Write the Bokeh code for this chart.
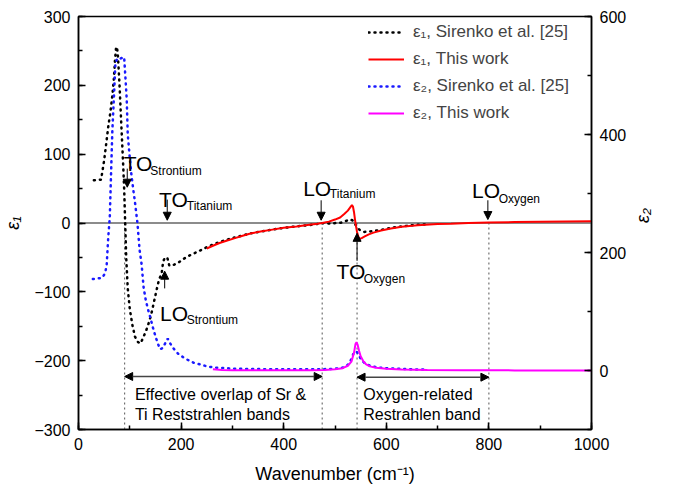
from bokeh.plotting import figure
from bokeh.models import (Range1d, LinearAxis, SingleIntervalTicker, Span, Label,
                          Arrow, NormalHead, Legend, LegendItem, ColumnDataSource)
from bokeh.embed import file_html
from bokeh.resources import INLINE

# ---------------- data ----------------
# eps1, Sirenko et al. [25] (black dotted)
sir_e1_x = [30, 44, 50, 54, 58, 62, 66, 69, 71, 73, 75, 77, 80, 84, 87, 89, 91, 93, 96, 100,
            105, 110, 116, 121, 127, 132, 137, 142, 147, 152, 157, 162, 165, 168, 173, 177,
            185, 194, 205, 217, 237, 253, 270, 290, 310, 330, 350, 375, 400, 425, 450, 470,
            480, 492, 502, 512, 520, 528, 534, 538, 542, 548, 557, 566, 576, 590, 609, 630,
            654, 680]
sir_e1_y = [62, 63, 91, 115, 140, 160, 185, 210, 235, 253, 256, 241, 200, 134, 86, 50, 0, -50,
            -95, -125, -148, -165, -173, -175, -165, -156, -145, -132, -115, -98, -82, -74,
            -56, -51, -50, -62, -61, -58, -52, -47, -40, -34, -29, -24, -20, -16, -13, -10, -7,
            -5, -3, -1, 0, -1, 0, 0.5, 2.5, 5, 4, 0, -5, -10, -13, -12.5, -11.5, -10, -7, -5,
            -3, -2]

# eps1, this work (red)
tw_e1_x = [250, 262, 275, 290, 305, 320, 337, 355, 375, 400, 425, 450, 466, 475, 488, 500, 510,
           518, 525, 530, 533, 535, 537, 539, 541, 543, 546, 548, 552, 558, 566, 575, 590, 609,
           630, 661, 700, 726, 760, 800, 850, 900, 950, 1000]
tw_e1_y = [-37, -33, -29, -25.5, -22, -18.5, -15, -12.5, -10, -7, -5, -2.5, -1, 0, 2, 5, 8, 13,
           18, 23, 26, 24, 16, 5, -5, -13, -21, -23, -22, -19.5, -16.5, -14, -11, -8, -5.5,
           -3.4, -1.5, -1, 0, 0.8, 1.3, 1.8, 2.2, 2.5]

# eps2, Sirenko et al. [25] (blue dotted)
sir_e2_x = [28, 46, 52, 55, 58, 61, 64, 66, 69, 72, 76, 80, 85, 89, 90, 92, 94, 96, 100, 103,
            107, 110, 115, 119, 123, 127, 131, 135, 140, 145, 150, 155, 159, 164, 169, 174, 178,
            183, 189, 196, 205, 213, 225, 239, 250, 265, 285, 305, 340, 380, 420, 460, 490, 510,
            520, 528, 533, 537, 542, 546, 550, 556, 563, 572, 585, 600, 620, 650, 680]
sir_e2_y = [155, 157, 165, 180, 226, 260, 350, 407, 463, 522, 529, 528, 530, 531, 517, 489, 460,
            400, 360, 333, 305, 286, 249, 205, 180, 140, 120, 105, 90, 73, 58, 45, 36, 38, 46,
            54, 47, 40, 33, 27, 22, 18, 13, 10, 7, 5, 4, 3, 2.5, 2, 2, 2, 2.5, 4, 6, 12, 22, 31,
            32, 27, 20, 14, 10, 7, 5, 4, 3, 2, 1.5]

# eps2, this work (magenta)
tw_e2_x = [262, 280, 300, 350, 400, 450, 480, 500, 515, 525, 532, 537, 540, 542, 544, 547, 550,
           555, 560, 568, 580, 600, 630, 680, 750, 850, 1000]
tw_e2_y = [2, 1, 0.5, 0.3, 0.3, 0.5, 1, 2, 4, 8, 15, 30, 45, 48, 44, 33, 24, 16, 11, 7, 4.5, 3,
           1.5, 0.8, 0.4, 0.2, 0.1]

legend_labels = ["ε₁, Sirenko et al. [25]", "ε₁, This work",
                 "ε₂, Sirenko et al. [25]", "ε₂, This work"]

# phonon mode markers (wavenumbers)
mode_names = ["TO", "TO", "LO", "LO", "TO", "LO"]
mode_subs = ["Strontium", "Titanium", "Titanium", "Oxygen", "Oxygen", "Strontium"]
mode_x = [95, 173, 473, 798, 543, 168]
band_edges_x = [90, 475, 543, 800]
band_texts = [["Effective overlap of Sr &", "Ti Reststrahlen bands"],
              ["Oxygen-related", "Restrahlen band"]]

FONT = "Liberation Sans"

# ---------------- figure ----------------
p = figure(frame_width=513, frame_height=413,
           x_range=Range1d(0, 1000), y_range=Range1d(-300, 300),
           output_backend="svg", toolbar_location=None,
           min_border_left=77, min_border_right=83, min_border_top=16, min_border_bottom=61)
p.extra_y_ranges = {"e2": Range1d(-100, 600)}
p.grid.visible = False
p.outline_line_color = "black"
p.outline_line_width = 1.5
p.background_fill_color = "white"
p.border_fill_color = "white"

def style_axis(ax):
    ax.axis_line_width = 1.5
    ax.axis_line_color = "black"
    ax.major_tick_in = 7
    ax.major_tick_out = 0
    ax.minor_tick_in = 4
    ax.minor_tick_out = 0
    ax.major_tick_line_width = 1.5
    ax.minor_tick_line_width = 1.5
    ax.major_label_text_font = FONT
    ax.major_label_text_font_size = "16px"
    ax.major_label_text_color = "black"
    ax.axis_label_text_font = FONT
    ax.axis_label_text_color = "black"

xa = p.xaxis[0]
xa.ticker = SingleIntervalTicker(interval=200, num_minor_ticks=2)
xa.axis_label = "Wavenumber (cm⁻¹)"
style_axis(xa)
xa.axis_label_text_font_size = "18px"
xa.axis_label_text_font_style = "normal"
xa.major_label_standoff = 8
xa.axis_label_standoff = 11

ya = p.yaxis[0]
ya.ticker = SingleIntervalTicker(interval=100, num_minor_ticks=2)
ya.axis_label = "ε₁"
style_axis(ya)
ya.axis_label_text_font_size = "18px"
ya.axis_label_text_font_style = "italic"
ya.major_label_standoff = 8
ya.axis_label_standoff = 8

ra = LinearAxis(y_range_name="e2", ticker=SingleIntervalTicker(interval=200, num_minor_ticks=2),
                axis_label="ε₂")
style_axis(ra)
ra.axis_label_text_font_size = "18px"
ra.axis_label_text_font_style = "italic"
ra.major_label_standoff = 8
ra.axis_label_standoff = 14
ra.axis_label_orientation = 1.5707963267948966
p.add_layout(ra, "right")

# zero line
p.add_layout(Span(location=0, dimension="width", line_color="#666666", line_width=1.5,
                  level="underlay"))

# vertical dotted band edges
p.segment(x0=band_edges_x, y0=[-300] * len(band_edges_x), x1=band_edges_x,
          y1=[0] * len(band_edges_x), line_color="#555555", line_width=1, line_dash="2 3")

# curves
r1 = p.line(sir_e1_x, sir_e1_y, line_color="black", line_width=2.5, line_dash="1 5",
            line_cap="round")
r2 = p.line(tw_e1_x, tw_e1_y, line_color="#ff0000", line_width=2)
r3 = p.line(sir_e2_x, sir_e2_y, y_range_name="e2", line_color="#1a1aff", line_width=2.5,
            line_dash="1 5", line_cap="round")
r4 = p.line(tw_e2_x, tw_e2_y, y_range_name="e2", line_color="#ff00ff", line_width=2)

legend = Legend(items=[LegendItem(label=l, renderers=[r]) for l, r in
                       zip(legend_labels, [r1, r2, r3, r4])],
                location=(290, 306), border_line_color=None, background_fill_alpha=0,
                label_text_font=FONT, label_text_font_size="17px", glyph_width=36,
                glyph_height=20, label_height=20, spacing=7, padding=7, margin=0,
                label_standoff=9)
p.add_layout(legend)

# mode labels: (main x, main y, sub x, sub y, arrow y0, arrow y1)
mode_layout = [
    (88, 87, 140, 75, 79, 52),
    (157, 34, 211, 25, 34, 4),
    (438, 50, 490, 42, 33, 4),
    (767, 47, 819, 35, 33, 5),
    (503, -71, 556, -82, -55, -15),
    (159, -131, 211, -141, -95, -70),
]
for name, sub, mx, (tx, ty, sx, sy, a0, a1) in zip(mode_names, mode_subs, mode_x, mode_layout):
    p.add_layout(Label(x=tx, y=ty, text=name, text_font=FONT, text_font_size="21px",
                       text_baseline="alphabetic", text_color="black"))
    p.add_layout(Label(x=sx, y=sy, text=sub, text_font=FONT, text_font_size="12px",
                       text_baseline="alphabetic", text_color="black"))
    p.add_layout(Arrow(end=NormalHead(size=8, fill_color="black", line_color="black"),
                       x_start=mx, y_start=a0, x_end=mx, y_end=a1,
                       line_color="black", line_width=1))

# band double arrows and text
band_layout = [((90, 475), -223, 110), ((543, 800), -224, 555)]
for (xs, ya_, tx), lines in zip(band_layout, band_texts):
    p.add_layout(Arrow(start=NormalHead(size=8, fill_color="black", line_color="black"),
                       end=NormalHead(size=8, fill_color="black", line_color="black"),
                       x_start=xs[0], y_start=ya_, x_end=xs[1], y_end=ya_,
                       line_color="#444444", line_width=1.5))
    for i, t in enumerate(lines):
        p.add_layout(Label(x=tx, y=-249 - 29 * i, text=t, text_font=FONT,
                           text_font_size="16px", text_baseline="alphabetic",
                           text_color="black"))

open("out.html", "w").write(file_html(p, INLINE))
